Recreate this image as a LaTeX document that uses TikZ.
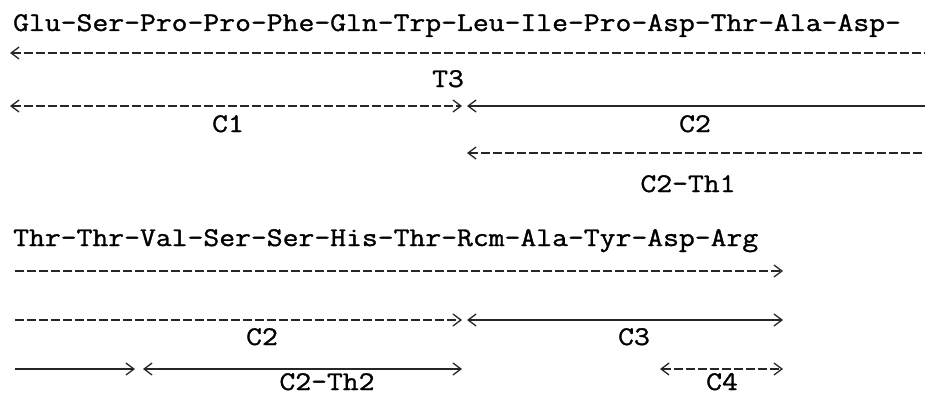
\documentclass[tikz,border=0pt]{standalone}
\usepackage{fontspec}
\newfontfamily\tw[FakeBold=1.2,FakeStretch=1.14]{Latin Modern Mono}
\usetikzlibrary{arrows.meta}
\begin{document}
\begin{tikzpicture}[x=1pt,y=-1pt,
  >={Straight Barb[length=8pt,width=12pt,line width=1.3pt]},
  seqtext/.style={font=\fontsize{27}{30}\selectfont\tw, inner sep=0pt, anchor=base west},
  lab/.style={font=\fontsize{27}{30}\selectfont\tw, inner sep=0pt, anchor=base},
  spanline/.style={line width=1.7pt, draw=black!85},
  dsh/.style={spanline, dash pattern=on 9pt off 3pt},
  sld/.style={spanline}
]
\useasboundingbox (0,0) rectangle (925,396);

% sequence lines
\node[seqtext] (s1) at (13,31) {Glu-Ser-Pro-Pro-Phe-Gln-Trp-Leu-Ile-Pro-Asp-Thr-Ala-Asp-};
\node[seqtext] (s2) at (13,246) {Thr-Thr-Val-Ser-Ser-His-Thr-Rcm-Ala-Tyr-Asp-Arg};

% endpoints, row 1
\coordinate (t3a) at (10,53);   \coordinate (t3b) at (925,53);
\coordinate (c1a) at (10,106);  \coordinate (c1b) at (462,106);
\coordinate (c2a) at (467,106); \coordinate (c2b) at (925,106);
\coordinate (th1a) at (467,153); \coordinate (th1b) at (925,153);
% endpoints, row 2
\coordinate (r2a) at (15,271);  \coordinate (r2b) at (783,271);
\coordinate (d2a) at (15,320);  \coordinate (d2b) at (462,320);
\coordinate (c3a) at (467,320); \coordinate (c3b) at (783,320);
\coordinate (e1a) at (15,369);  \coordinate (e1b) at (135,369);
\coordinate (th2a) at (143,369); \coordinate (th2b) at (462,369);
\coordinate (c4a) at (660,369); \coordinate (c4b) at (783,369);

% spans row 1
\draw[dsh,<-] (t3a) -- (t3b);
\draw[dsh,<->] (c1a) -- (c1b);
\draw[sld,<-] (c2a) -- (c2b);
\draw[dsh,<-] (th1a) -- (th1b);
% spans row 2
\draw[dsh,->] (r2a) -- (r2b);
\draw[dsh,->] (d2a) -- (d2b);
\draw[sld,<->] (c3a) -- (c3b);
\draw[sld,->] (e1a) -- (e1b);
\draw[sld,<->] (th2a) -- (th2b);
\draw[dsh,<->] (c4a) -- (c4b);

% labels
\node[lab] (lT3) at (448,87) {T3};
\node[lab] (lC1) at (228,132) {C1};
\node[lab] (lC2a) at (695,132) {C2};
\node[lab] (lTh1) at (688,192) {C2-Th1};
\node[lab] (lC2b) at (262,345) {C2};
\node[lab] (lC3) at (634,345) {C3};
\node[lab] (lTh2) at (327,390) {C2-Th2};
\node[lab] (lC4) at (722,390) {C4};
\end{tikzpicture}
\end{document}
